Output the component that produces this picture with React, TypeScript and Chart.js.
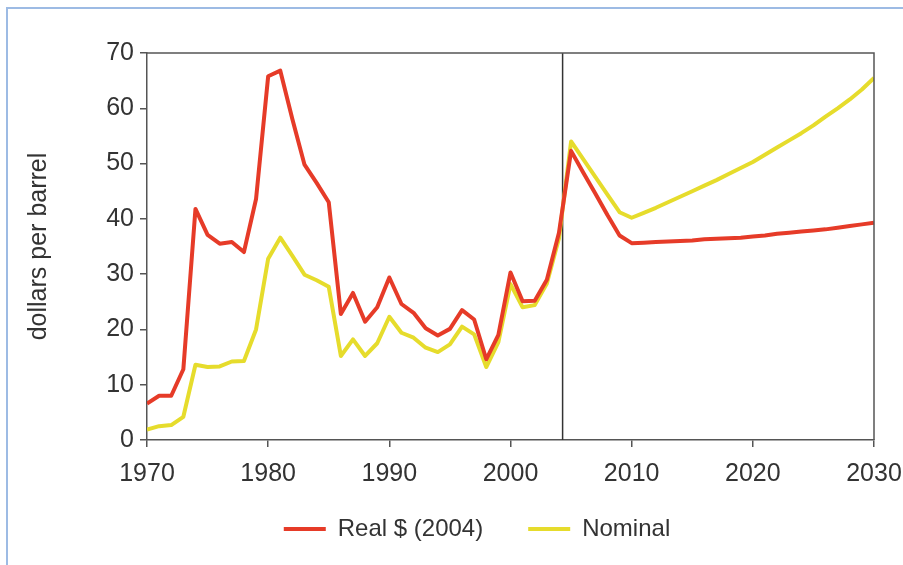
import React, { useEffect, useRef } from "react";
import { Chart, registerables } from "chart.js";

Chart.register(...registerables);

// ---- data ----
const histYears = [
  1970, 1971, 1972, 1973, 1974, 1975, 1976, 1977, 1978, 1979,
  1980, 1981, 1982, 1983, 1984, 1985, 1986, 1987, 1988, 1989,
  1990, 1991, 1992, 1993, 1994, 1995, 1996, 1997, 1998, 1999,
  2000, 2001, 2002, 2003, 2004,
];
const realHist = [
  6.6, 8.0, 8.0, 12.8, 41.8, 37.1, 35.5, 35.8, 34.0, 43.6,
  65.8, 66.8, 58.0, 49.8, 46.5, 43.0, 22.8, 26.6, 21.4, 24.0,
  29.4, 24.6, 23.0, 20.2, 18.9, 20.1, 23.5, 21.8, 14.6, 19.0,
  30.3, 25.1, 25.2, 29.0, 37.5,
];
const nominalHist = [
  1.9, 2.5, 2.7, 4.2, 13.6, 13.2, 13.3, 14.2, 14.3, 20.0,
  32.8, 36.6, 33.3, 29.9, 28.9, 27.7, 15.2, 18.2, 15.2, 17.5,
  22.3, 19.4, 18.5, 16.7, 15.9, 17.3, 20.5, 19.1, 13.2, 17.7,
  28.2, 24.0, 24.4, 28.3, 36.5,
];
const projYears = [
  2005, 2006, 2007, 2008, 2009, 2010, 2011, 2012, 2013, 2014,
  2015, 2016, 2017, 2018, 2019, 2020, 2021, 2022, 2023, 2024,
  2025, 2026, 2027, 2028, 2029, 2030,
];
const realProj = [
  52.3, 48.4, 44.6, 40.7, 37.0, 35.6, 35.7, 35.8, 35.9, 36.0,
  36.1, 36.3, 36.4, 36.5, 36.6, 36.8, 37.0, 37.3, 37.5, 37.7,
  37.9, 38.1, 38.4, 38.7, 39.0, 39.3,
];
const nominalProj = [
  54.0, 50.8, 47.6, 44.4, 41.2, 40.2, 41.1, 42.0, 43.0, 44.0,
  45.0, 46.0, 47.0, 48.1, 49.2, 50.3, 51.6, 52.9, 54.2, 55.5,
  56.9, 58.5, 60.0, 61.6, 63.4, 65.5,
];
const xTickValues = [1970, 1980, 1990, 2000, 2010, 2020, 2030];
const yTickValues = [0, 10, 20, 30, 40, 50, 60, 70];
const forecastStart = 2004.3;
const seriesLabels = ["Real $ (2004)", "Nominal"];
const yTitle = "dollars per barrel";

// ---- styles ----
const RED = "#e63b28";
const YELLOW = "#e6dc2c";
const AXIS = "#555555";
const TEXT = "#333333";
const FONT = "'Liberation Sans', Arial, sans-serif";

function toPoints(xs: number[], ys: number[]) {
  return xs.map((x, i) => ({ x, y: ys[i] }));
}

const boxPlugin = {
  id: "boxPlugin",
  afterLayout(chart: any) {
    // let tick labels extend below the axis box, and centre the legend like the original
    if (chart.scales.x) chart.scales.x.bottom += 40;
    if (chart.legend) {
      chart.legend.left += 40;
      chart.legend.right += 40;
    }
  },
  afterDraw(chart: any) {
    const { ctx, chartArea } = chart;
    ctx.save();
    ctx.strokeStyle = AXIS;
    ctx.lineWidth = 1.5;
    ctx.beginPath();
    ctx.moveTo(chartArea.left, chartArea.top);
    ctx.lineTo(chartArea.right, chartArea.top);
    ctx.lineTo(chartArea.right, chartArea.bottom);
    ctx.stroke();
    ctx.restore();
  },
};

export default function App() {
  const canvasRef = useRef<HTMLCanvasElement | null>(null);

  useEffect(() => {
    const canvas = canvasRef.current;
    if (!canvas) return;
    const realData = toPoints(histYears.concat(projYears), realHist.concat(realProj));
    const nominalData = toPoints(histYears.concat(projYears), nominalHist.concat(nominalProj));
    const chart = new Chart(canvas, {
      type: "line",
      data: {
        datasets: [
          {
            label: seriesLabels[0],
            data: realData,
            borderColor: RED,
            backgroundColor: RED,
            borderWidth: 4,
            pointRadius: 0,
            tension: 0,
            borderJoinStyle: "round",
          },
          {
            label: seriesLabels[1],
            data: nominalData,
            borderColor: YELLOW,
            backgroundColor: YELLOW,
            borderWidth: 4,
            pointRadius: 0,
            tension: 0,
            borderJoinStyle: "round",
          },
          {
            label: "forecast",
            data: [
              { x: forecastStart, y: yTickValues[0] },
              { x: forecastStart, y: yTickValues[yTickValues.length - 1] },
            ],
            borderColor: "#333333",
            borderWidth: 1.5,
            pointRadius: 0,
          },
        ],
      },
      options: {
        animation: false,
        responsive: false,
        maintainAspectRatio: false,
        layout: { padding: { left: 0, right: 29, top: 53, bottom: 14 } },
        scales: {
          x: {
            type: "linear",
            min: xTickValues[0],
            max: xTickValues[xTickValues.length - 1],
            afterBuildTicks: (s: any) => {
              s.ticks = xTickValues.map((v) => ({ value: v }));
            },
            afterFit: (s: any) => {
              s.height = 32;
              s.paddingLeft = 0;
              s.paddingRight = 0;
            },
            ticks: {
              autoSkip: false,
              maxRotation: 0,
              padding: 12,
              color: TEXT,
              font: { family: FONT, size: 25 },
              callback: (v: any) => String(v),
            },
            grid: {
              drawOnChartArea: false,
              drawTicks: true,
              tickLength: 7,
              color: AXIS,
              lineWidth: 1.5,
            },
            border: { display: true, color: AXIS, width: 1.5 },
          },
          y: {
            type: "linear",
            min: yTickValues[0],
            max: yTickValues[yTickValues.length - 1],
            afterBuildTicks: (s: any) => {
              s.ticks = yTickValues.map((v) => ({ value: v }));
            },
            afterFit: (s: any) => {
              s.width = 147;
            },
            ticks: {
              padding: 6,
              color: TEXT,
              font: { family: FONT, size: 25 },
              callback: (v: any) => String(v),
            },
            grid: {
              drawOnChartArea: false,
              drawTicks: true,
              tickLength: 7,
              color: AXIS,
              lineWidth: 1.5,
            },
            border: { display: true, color: AXIS, width: 1.5 },
            title: {
              display: true,
              text: yTitle,
              color: TEXT,
              font: { family: FONT, size: 25 },
              padding: { top: 24, bottom: 0 },
            },
          },
        },
        plugins: {
          tooltip: { enabled: false },
          legend: {
            position: "bottom",
            labels: {
              boxWidth: 42,
              boxHeight: 4,
              padding: 45,
              color: TEXT,
              font: { family: FONT, size: 24 },
              generateLabels: (chart: any) =>
                chart.data.datasets
                  .map((ds: any, i: number) => ({
                    text: ds.label,
                    fillStyle: ds.borderColor,
                    strokeStyle: ds.borderColor,
                    lineWidth: 0,
                    hidden: false,
                    datasetIndex: i,
                    fontColor: TEXT,
                  }))
                  .filter((item: any) => item.datasetIndex < 2),
            },
          },
        },
      },
      plugins: [boxPlugin],
    } as any);
    return () => chart.destroy();
  }, []);

  return (
    <div
      style={{
        position: "fixed",
        left: 0,
        top: 0,
        width: 903,
        height: 565,
        background: "#ffffff",
        overflow: "hidden",
      }}
    >
      <div
        style={{
          position: "absolute",
          left: 6,
          top: 7,
          width: 920,
          height: 580,
          borderLeft: "2px solid #9dbbe4",
          borderTop: "2px solid #9dbbe4",
        }}
      />
      <canvas
        ref={canvasRef}
        width={903}
        height={565}
        style={{ position: "absolute", left: 0, top: 0, width: 903, height: 565 }}
      />
    </div>
  );
}
